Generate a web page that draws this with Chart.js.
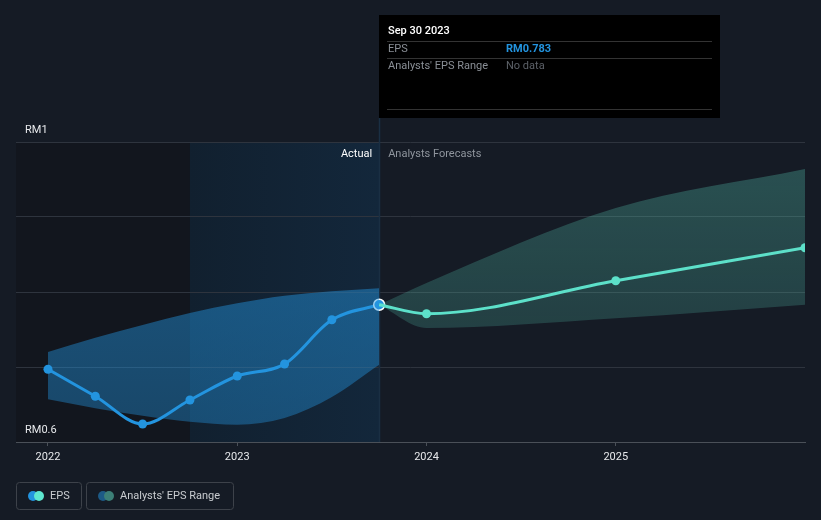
<!DOCTYPE html>
<html>
<head>
<meta charset="utf-8">
<script src="https://cdn.jsdelivr.net/npm/chart.js@4.4.1/dist/chart.umd.min.js"></script>
<style>
html,body{margin:0;padding:0;background:#151b25;}
canvas{display:block;}
</style>
</head>
<body>
<canvas id="c" width="821" height="520"></canvas>
<script>
// ---- data ----
const actualX = [2022.0, 2022.25, 2022.5, 2022.75, 2023.0, 2023.25, 2023.5, 2023.75];
const actualEps = [0.697, 0.661, 0.624, 0.656, 0.688, 0.704, 0.763, 0.783];
const pastRangeHigh = [0.720, 0.739, 0.756, 0.772, 0.785, 0.795, 0.801, 0.805];
const pastRangeLow = [0.657, 0.645, 0.635, 0.627, 0.623, 0.632, 0.660, 0.703];
const forecastX = [2023.75, 2024.0, 2025.0, 2026.0];
const forecastEps = [0.783, 0.771, 0.815, 0.859];
const forecastHigh = [0.783, 0.812, 0.912, 0.964];
const forecastLow = [0.783, 0.752, 0.765, 0.783];
const xTickYears = [2022, 2023, 2024, 2025];
const yGridValues = [0.6, 0.7, 0.8, 0.9, 1.0];
const yLabelValues = [0.6, 1.0];
const yLabelTexts = ['RM0.6', 'RM1'];
const highlightStart = 2022.75;
const actualEnd = 2023.75;
const tooltipDate = 'Sep 30 2023';
const tooltipEps = 'RM0.783';

const toPts = (xs, ys) => xs.map((x, i) => ({x: x, y: ys[i]}));
const FONT = 'Roboto, "Noto Sans", sans-serif';

const bgPlugin = {
  id: 'bg',
  beforeDraw(chart) {
    const {ctx, chartArea: a, scales: {x}} = chart;
    ctx.save();
    const xh = x.getPixelForValue(highlightStart);
    const xe = x.getPixelForValue(actualEnd);
    ctx.fillStyle = '#12161e';
    ctx.fillRect(a.left, a.top, xh - a.left, a.bottom - a.top);
    const g = ctx.createLinearGradient(xh, 0, xe, 0);
    g.addColorStop(0, '#11202f');
    g.addColorStop(1, '#13273b');
    ctx.fillStyle = g;
    ctx.fillRect(xh, a.top, xe - xh, a.bottom - a.top);
    ctx.restore();
  },
  afterDraw(chart) {
    const {ctx, chartArea: a, scales: {x, y}} = chart;
    ctx.save();
    const xe = x.getPixelForValue(actualEnd);
    // y labels
    ctx.font = '11px ' + FONT;
    ctx.fillStyle = '#e6e8eb';
    ctx.textBaseline = 'bottom';
    ctx.textAlign = 'left';
    yLabelValues.forEach((v, i) => {
      ctx.fillText(yLabelTexts[i], a.left + 9, y.getPixelForValue(v) - 6);
    });
    // Actual / Analysts Forecasts
    ctx.textBaseline = 'middle';
    ctx.textAlign = 'right';
    ctx.fillStyle = '#ffffff';
    ctx.fillText('Actual', xe - 7, a.top + 12.5);
    ctx.textAlign = 'left';
    ctx.fillStyle = '#8f959d';
    ctx.fillText('Analysts Forecasts', xe + 9, a.top + 12.5);

    // tooltip box
    const bx = Math.round(xe), by = 15, bw = 341, bh = 103;
    ctx.fillStyle = '#000000';
    ctx.fillRect(bx, by, bw, bh);
    ctx.strokeStyle = '#333333';
    ctx.lineWidth = 1;
    [41.5, 58.5, 109.5].forEach(ly => {
      ctx.beginPath(); ctx.moveTo(bx + 8, ly); ctx.lineTo(bx + bw - 8, ly); ctx.stroke();
    });
    ctx.textBaseline = 'middle';
    ctx.textAlign = 'left';
    ctx.font = '500 11px ' + FONT;
    ctx.fillStyle = '#ffffff';
    ctx.fillText(tooltipDate, bx + 9, 31.5);
    ctx.font = '11px ' + FONT;
    ctx.fillStyle = '#8a8f96';
    ctx.fillText('EPS', bx + 9, 49.5);
    ctx.fillText("Analysts' EPS Range", bx + 9, 66.5);
    ctx.font = 'bold 11px ' + FONT;
    ctx.fillStyle = '#2394df';
    ctx.fillText(tooltipEps, bx + 127, 49.5);
    ctx.font = '11px ' + FONT;
    ctx.fillStyle = '#5c6168';
    ctx.fillText('No data', bx + 127, 66.5);

    // legend
    const drawBox = (x0, w, c1, c2, label) => {
      ctx.strokeStyle = '#3d424a';
      ctx.lineWidth = 1;
      ctx.beginPath();
      ctx.roundRect(x0 + 0.5, 482.5, w, 27, 3);
      ctx.stroke();
      ctx.fillStyle = c1;
      ctx.beginPath(); ctx.arc(x0 + 17, 496, 5, 0, Math.PI * 2); ctx.fill();
      ctx.fillStyle = c2;
      ctx.beginPath(); ctx.arc(x0 + 23, 496, 5, 0, Math.PI * 2); ctx.fill();
      ctx.fillStyle = '#c9ccd0';
      ctx.font = '11px ' + FONT;
      ctx.textAlign = 'left';
      ctx.textBaseline = 'middle';
      ctx.fillText(label, x0 + 34, 496);
    };
    drawBox(16, 65, '#2394df', '#5ee8d0', 'EPS');
    drawBox(86, 147, '#1d5a86', '#3c7f77', "Analysts' EPS Range");
    ctx.restore();
  },
  beforeDatasetsDraw(chart) {
    const {ctx, chartArea: a, scales: {x}} = chart;
    const xe = Math.round(x.getPixelForValue(actualEnd)) + 0.5;
    ctx.save();
    ctx.strokeStyle = '#1a2f43';
    ctx.lineWidth = 1.5;
    ctx.beginPath(); ctx.moveTo(xe, 118); ctx.lineTo(xe, a.bottom); ctx.stroke();
    ctx.restore();
  }
};

const blueBand = (context) => {
  const c = context.chart; const a = c.chartArea;
  if (!a) return 'rgba(35,148,223,0.5)';
  const g = c.ctx.createLinearGradient(0, a.top, 0, a.bottom);
  g.addColorStop(0, 'rgba(35,148,223,0.55)');
  g.addColorStop(1, 'rgba(35,148,223,0.38)');
  return g;
};
const tealBand = (context) => {
  const c = context.chart; const a = c.chartArea;
  if (!a) return 'rgba(80,200,180,0.28)';
  const g = c.ctx.createLinearGradient(0, a.top, 0, a.bottom);
  g.addColorStop(0, 'rgba(88,200,180,0.32)');
  g.addColorStop(1, 'rgba(88,200,180,0.15)');
  return g;
};

const lastIdx = actualX.length - 1;
new Chart(document.getElementById('c'), {
  type: 'line',
  data: {
    datasets: [
      {data: toPts(actualX, pastRangeHigh), borderWidth: 0, pointRadius: 0, fill: '+1', backgroundColor: blueBand, cubicInterpolationMode: 'monotone'},
      {data: toPts(actualX, pastRangeLow), borderWidth: 0, pointRadius: 0, fill: false, cubicInterpolationMode: 'monotone'},
      {data: toPts(forecastX, forecastHigh), borderWidth: 0, pointRadius: 0, fill: '+1', backgroundColor: tealBand, cubicInterpolationMode: 'monotone'},
      {data: toPts(forecastX, forecastLow), borderWidth: 0, pointRadius: 0, fill: false, cubicInterpolationMode: 'monotone'},
      {data: toPts(forecastX, forecastEps), borderColor: '#5ee8d0', borderWidth: 3, fill: false,
        pointRadius: forecastX.map((_, i) => i === 0 ? 0 : 4.5), pointBackgroundColor: '#5ee8d0', pointBorderWidth: 0,
        cubicInterpolationMode: 'monotone'},
      {data: toPts(actualX, actualEps), borderColor: '#2394df', borderWidth: 3, fill: false,
        pointRadius: actualX.map((_, i) => i === lastIdx ? 5.5 : 4.5),
        pointBackgroundColor: '#2394df',
        pointBorderColor: actualX.map((_, i) => i === lastIdx ? '#ffffff' : '#2394df'),
        pointBorderWidth: actualX.map((_, i) => i === lastIdx ? 1.5 : 0),
        cubicInterpolationMode: 'monotone'}
    ]
  },
  options: {
    responsive: false,
    animation: false,
    events: [],
    layout: {padding: {left: 16, right: 16, top: 142, bottom: 48}},
    plugins: {legend: {display: false}, tooltip: {enabled: false}},
    scales: {
      x: {
        type: 'linear', min: 2021.831, max: 2026.0,
        afterFit: (s) => { s.height = 30; },
        afterBuildTicks: (s) => { s.ticks = xTickYears.map(v => ({value: v})); },
        grid: {display: true, drawOnChartArea: false, drawTicks: true, tickLength: 4, color: '#4a5058'},
        border: {display: true, color: '#4a5058', width: 1},
        ticks: {color: '#e6e8eb', font: {family: FONT, size: 11}, padding: 5, callback: (v) => String(v), maxRotation: 0}
      },
      y: {
        type: 'linear', min: 0.6, max: 1.0,
        afterFit: (s) => { s.width = 0; },
        afterBuildTicks: (s) => { s.ticks = yGridValues.map(v => ({value: v})); },
        grid: {color: '#2e343e', drawTicks: false, lineWidth: 1},
        border: {display: false},
        ticks: {display: false}
      }
    }
  },
  plugins: [bgPlugin]
});
</script>
</body>
</html>
